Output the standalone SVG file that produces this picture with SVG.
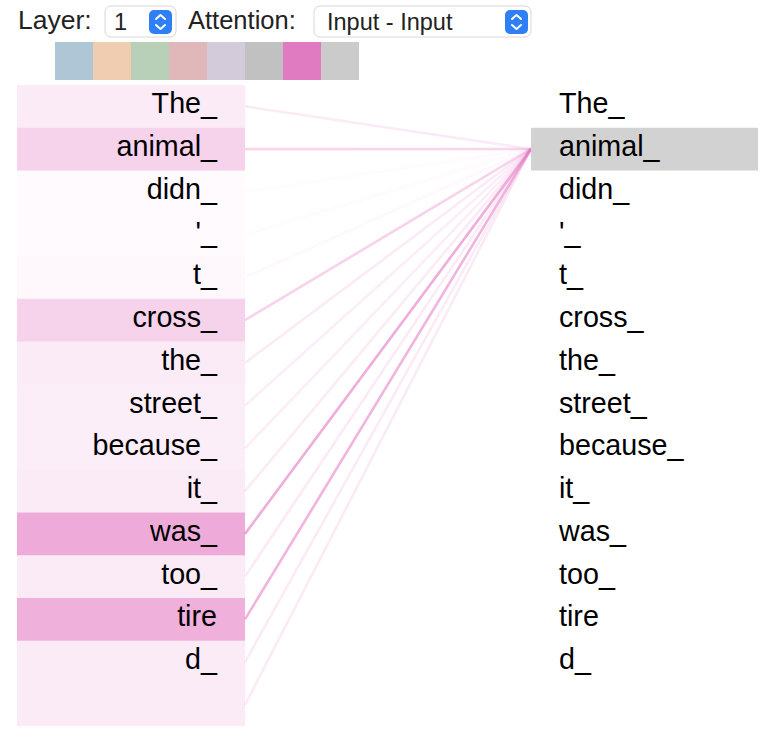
<svg xmlns="http://www.w3.org/2000/svg" width="768" height="738" viewBox="0 0 768 738">
<style>
text{font-family:"Liberation Sans",Arial,Helvetica,sans-serif;fill:#000}
.tok{font-size:28.7px}
.l{text-anchor:end}
.hdr{font-size:26.5px;fill:#222}
.sel{font-size:23.5px;fill:#222}
.box{fill:#fff;stroke:#d8d8d8;stroke-width:1}
.step{fill:#2f7ff6}
.chev{fill:none;stroke:#fff;stroke-width:2;stroke-linecap:round;stroke-linejoin:round}
.row{fill:#e377c2}
.conn line{stroke:#e377c2;stroke-width:2.6}
</style>
<rect width="768" height="738" fill="#fff"/>
<g id="controls">
<text class="hdr" x="18" y="29">Layer:</text>
<rect class="box" x="105" y="6" width="71" height="31" rx="6"/>
<text class="sel" x="114" y="30">1</text>
<rect class="step" x="149" y="10" width="23" height="24" rx="5"/>
<path class="chev" d="M156 19 L160.5 15 L165 19 M156 25 L160.5 29 L165 25"/>
<text class="hdr" x="188" y="29" style="font-size:25.5px">Attention:</text>
<rect class="box" x="314" y="6" width="217" height="31" rx="6"/>
<text class="sel" x="327" y="30">Input - Input</text>
<rect class="step" x="505" y="10" width="23" height="24" rx="5"/>
<path class="chev" d="M512 19 L516.5 15 L521 19 M512 25 L516.5 29 L521 25"/>
</g>
<g id="swatches">
<rect x="55" y="42" width="38" height="38" fill="#afc6d6"/>
<rect x="93" y="42" width="38" height="38" fill="#f0cdb0"/>
<rect x="131" y="42" width="38" height="38" fill="#b7d0b7"/>
<rect x="169" y="42" width="38" height="38" fill="#e0b8b9"/>
<rect x="207" y="42" width="38" height="38" fill="#d3cbd9"/>
<rect x="245" y="42" width="38" height="38" fill="#c1c1c1"/>
<rect x="283" y="42" width="38" height="38" fill="#e07bc1"/>
<rect x="321" y="42" width="38" height="38" fill="#cbcbcb"/>
</g>
<g class="conn" id="connectors">
<line x1="245" y1="106.4" x2="531" y2="149" stroke-opacity="0.15"/>
<line x1="245" y1="149.1" x2="531" y2="149" stroke-opacity="0.3"/>
<line x1="245" y1="191.9" x2="531" y2="149" stroke-opacity="0.04"/>
<line x1="245" y1="234.6" x2="531" y2="149" stroke-opacity="0.04"/>
<line x1="245" y1="277.4" x2="531" y2="149" stroke-opacity="0.05"/>
<line x1="245" y1="320.1" x2="531" y2="149" stroke-opacity="0.32"/>
<line x1="245" y1="362.9" x2="531" y2="149" stroke-opacity="0.15"/>
<line x1="245" y1="405.6" x2="531" y2="149" stroke-opacity="0.12"/>
<line x1="245" y1="448.4" x2="531" y2="149" stroke-opacity="0.12"/>
<line x1="245" y1="491.1" x2="531" y2="149" stroke-opacity="0.15"/>
<line x1="245" y1="533.9" x2="531" y2="149" stroke-opacity="0.6"/>
<line x1="245" y1="576.6" x2="531" y2="149" stroke-opacity="0.15"/>
<line x1="245" y1="619.4" x2="531" y2="149" stroke-opacity="0.55"/>
<line x1="245" y1="662.1" x2="531" y2="149" stroke-opacity="0.15"/>
<line x1="245" y1="704.9" x2="531" y2="149" stroke-opacity="0.15"/>
</g>
<g id="left">
<g id="l0"><rect class="row" x="17" y="85" width="228" height="42.75" fill-opacity="0.15"/><text class="tok l" x="217" y="113.3">The_</text></g>
<g id="l1"><rect class="row" x="17" y="127.75" width="228" height="42.75" fill-opacity="0.32"/><text class="tok l" x="217" y="156">animal_</text></g>
<g id="l2"><rect class="row" x="17" y="170.5" width="228" height="42.75" fill-opacity="0.04"/><text class="tok l" x="217" y="198.8">didn_</text></g>
<g id="l3"><rect class="row" x="17" y="213.25" width="228" height="42.75" fill-opacity="0.04"/><text class="tok l" x="217" y="241.5">'_</text></g>
<g id="l4"><rect class="row" x="17" y="256" width="228" height="42.75" fill-opacity="0.05"/><text class="tok l" x="217" y="284.3">t_</text></g>
<g id="l5"><rect class="row" x="17" y="298.75" width="228" height="42.75" fill-opacity="0.32"/><text class="tok l" x="217" y="327">cross_</text></g>
<g id="l6"><rect class="row" x="17" y="341.5" width="228" height="42.75" fill-opacity="0.15"/><text class="tok l" x="217" y="369.8">the_</text></g>
<g id="l7"><rect class="row" x="17" y="384.25" width="228" height="42.75" fill-opacity="0.12"/><text class="tok l" x="217" y="412.5">street_</text></g>
<g id="l8"><rect class="row" x="17" y="427" width="228" height="42.75" fill-opacity="0.12"/><text class="tok l" x="217" y="455.3">because_</text></g>
<g id="l9"><rect class="row" x="17" y="469.75" width="228" height="42.75" fill-opacity="0.15"/><text class="tok l" x="217" y="498">it_</text></g>
<g id="l10"><rect class="row" x="17" y="512.5" width="228" height="42.75" fill-opacity="0.62"/><text class="tok l" x="217" y="540.8">was_</text></g>
<g id="l11"><rect class="row" x="17" y="555.25" width="228" height="42.75" fill-opacity="0.15"/><text class="tok l" x="217" y="583.5">too_</text></g>
<g id="l12"><rect class="row" x="17" y="598" width="228" height="42.75" fill-opacity="0.58"/><text class="tok l" x="217" y="626.3">tire</text></g>
<g id="l13"><rect class="row" x="17" y="640.75" width="228" height="42.75" fill-opacity="0.15"/><text class="tok l" x="217" y="669">d_</text></g>
<g id="l14"><rect class="row" x="17" y="683.5" width="228" height="42.75" fill-opacity="0.15"/></g>
</g>
<g id="right">
<rect x="531" y="127.75" width="227" height="42.75" fill="#d2d2d2"/>
<g id="r0"><text class="tok" x="559" y="113.3">The_</text></g>
<g id="r1"><text class="tok" x="559" y="156">animal_</text></g>
<g id="r2"><text class="tok" x="559" y="198.8">didn_</text></g>
<g id="r3"><text class="tok" x="559" y="241.5">'_</text></g>
<g id="r4"><text class="tok" x="559" y="284.3">t_</text></g>
<g id="r5"><text class="tok" x="559" y="327">cross_</text></g>
<g id="r6"><text class="tok" x="559" y="369.8">the_</text></g>
<g id="r7"><text class="tok" x="559" y="412.5">street_</text></g>
<g id="r8"><text class="tok" x="559" y="455.3">because_</text></g>
<g id="r9"><text class="tok" x="559" y="498">it_</text></g>
<g id="r10"><text class="tok" x="559" y="540.8">was_</text></g>
<g id="r11"><text class="tok" x="559" y="583.5">too_</text></g>
<g id="r12"><text class="tok" x="559" y="626.3">tire</text></g>
<g id="r13"><text class="tok" x="559" y="669">d_</text></g>
</g>
</svg>
